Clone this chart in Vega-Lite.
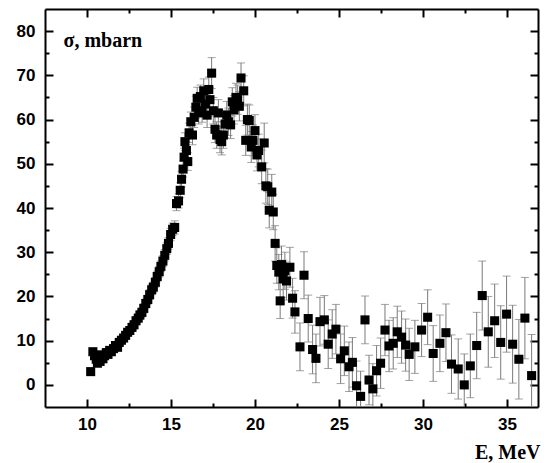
{
  "$schema": "https://vega.github.io/schema/vega-lite/v6.json",
  "autosize": {"type": "none"},
  "padding": {"left": 45, "top": 9, "right": 6, "bottom": 56},
  "width": 493,
  "height": 398,
  "background": "white",
  "config": {
    "view": {"stroke": null},
    "axis": {
      "grid": false,
      "domainColor": "black",
      "domainWidth": 2,
      "tickColor": "black",
      "tickWidth": 2,
      "labelFont": "Liberation Sans",
      "labelFontWeight": "bold",
      "labelFontSize": 17,
      "labelColor": "black",
      "titleFont": "Liberation Serif",
      "titleFontWeight": "bold",
      "titleFontSize": 20,
      "titleColor": "black"
    }
  },
  "data": {
    "values": [
      {"E": 10.22, "s": 3.0, "err": 0.5},
      {"E": 10.35, "s": 7.5, "err": 0.6},
      {"E": 10.45, "s": 6.6, "err": 0.6},
      {"E": 10.55, "s": 5.8, "err": 0.6},
      {"E": 10.62, "s": 4.9, "err": 0.6},
      {"E": 10.7, "s": 6.2, "err": 0.6},
      {"E": 10.78, "s": 5.3, "err": 0.6},
      {"E": 10.85, "s": 6.8, "err": 0.6},
      {"E": 10.95, "s": 5.9, "err": 0.6},
      {"E": 11.05, "s": 6.6, "err": 0.6},
      {"E": 11.15, "s": 7.3, "err": 0.6},
      {"E": 11.25, "s": 6.9, "err": 0.7},
      {"E": 11.35, "s": 7.8, "err": 0.7},
      {"E": 11.45, "s": 7.5, "err": 0.7},
      {"E": 11.58, "s": 8.2, "err": 0.7},
      {"E": 11.7, "s": 8.9, "err": 0.7},
      {"E": 11.82, "s": 8.5, "err": 0.7},
      {"E": 11.92, "s": 9.6, "err": 0.8},
      {"E": 12.05, "s": 10.1, "err": 0.8},
      {"E": 12.18, "s": 10.6, "err": 0.8},
      {"E": 12.3, "s": 11.2, "err": 0.8},
      {"E": 12.42, "s": 11.9, "err": 0.8},
      {"E": 12.55, "s": 12.3, "err": 0.8},
      {"E": 12.68, "s": 13.0, "err": 0.9},
      {"E": 12.8, "s": 13.6, "err": 0.9},
      {"E": 12.92, "s": 14.5, "err": 0.9},
      {"E": 13.05, "s": 15.1, "err": 0.9},
      {"E": 13.15, "s": 15.8, "err": 1.0},
      {"E": 13.27, "s": 16.4, "err": 1.0},
      {"E": 13.38, "s": 17.3, "err": 1.0},
      {"E": 13.5, "s": 18.4, "err": 1.0},
      {"E": 13.62, "s": 19.3, "err": 1.0},
      {"E": 13.73, "s": 20.4, "err": 1.1},
      {"E": 13.85, "s": 21.5, "err": 1.1},
      {"E": 13.95, "s": 22.1, "err": 1.1},
      {"E": 14.07, "s": 23.2, "err": 1.1},
      {"E": 14.18, "s": 24.5, "err": 1.2},
      {"E": 14.3, "s": 25.6, "err": 1.2},
      {"E": 14.4, "s": 26.8, "err": 1.2},
      {"E": 14.52, "s": 28.0, "err": 1.2},
      {"E": 14.63, "s": 29.3, "err": 1.3},
      {"E": 14.75, "s": 30.8, "err": 1.3},
      {"E": 14.85, "s": 32.0, "err": 1.3},
      {"E": 14.98, "s": 34.0, "err": 1.4},
      {"E": 15.1, "s": 35.2, "err": 1.4},
      {"E": 15.22, "s": 35.6, "err": 1.5},
      {"E": 15.33, "s": 41.0, "err": 1.6},
      {"E": 15.45, "s": 41.6, "err": 1.6},
      {"E": 15.55, "s": 44.0, "err": 1.7},
      {"E": 15.63, "s": 46.5, "err": 1.8},
      {"E": 15.72, "s": 48.8, "err": 1.8},
      {"E": 15.78, "s": 51.5, "err": 2.0},
      {"E": 15.83, "s": 55.0, "err": 2.0},
      {"E": 15.92, "s": 53.0, "err": 2.0},
      {"E": 16.0, "s": 50.5, "err": 2.0},
      {"E": 16.08, "s": 57.0, "err": 2.2},
      {"E": 16.18, "s": 59.5, "err": 2.2},
      {"E": 16.28, "s": 56.5, "err": 2.2},
      {"E": 16.38, "s": 60.5, "err": 2.3},
      {"E": 16.48, "s": 62.8, "err": 2.5},
      {"E": 16.56, "s": 64.8, "err": 2.5},
      {"E": 16.65, "s": 61.5, "err": 2.5},
      {"E": 16.75, "s": 65.2, "err": 2.6},
      {"E": 16.85, "s": 62.0, "err": 2.6},
      {"E": 16.95, "s": 66.5, "err": 2.7},
      {"E": 17.05, "s": 63.5, "err": 2.7},
      {"E": 17.15, "s": 61.0, "err": 2.8},
      {"E": 17.25, "s": 66.8, "err": 2.8},
      {"E": 17.32, "s": 64.5, "err": 2.8},
      {"E": 17.42, "s": 70.5, "err": 3.5},
      {"E": 17.52, "s": 62.0, "err": 3.0},
      {"E": 17.62, "s": 57.8, "err": 3.0},
      {"E": 17.72, "s": 56.5, "err": 3.0},
      {"E": 17.82, "s": 61.5, "err": 3.0},
      {"E": 17.92, "s": 55.5, "err": 3.0},
      {"E": 18.02, "s": 55.0, "err": 3.0},
      {"E": 18.12, "s": 56.5, "err": 3.0},
      {"E": 18.22, "s": 59.0, "err": 3.1},
      {"E": 18.32, "s": 61.0, "err": 3.1},
      {"E": 18.42, "s": 59.5, "err": 3.1},
      {"E": 18.55, "s": 58.8, "err": 3.1},
      {"E": 18.65, "s": 64.0, "err": 3.2},
      {"E": 18.75, "s": 62.2, "err": 3.2},
      {"E": 18.87, "s": 65.0, "err": 3.2},
      {"E": 18.97, "s": 64.5, "err": 3.3},
      {"E": 19.07, "s": 63.0, "err": 3.3},
      {"E": 19.17, "s": 69.4, "err": 3.4},
      {"E": 19.33, "s": 66.5, "err": 3.4},
      {"E": 19.45, "s": 55.3, "err": 3.4},
      {"E": 19.55, "s": 60.0, "err": 3.5},
      {"E": 19.66, "s": 59.8, "err": 3.5},
      {"E": 19.78, "s": 53.8, "err": 3.5},
      {"E": 19.88, "s": 55.3, "err": 3.5},
      {"E": 20.0, "s": 57.5, "err": 3.6},
      {"E": 20.12, "s": 52.0, "err": 3.6},
      {"E": 20.22, "s": 53.0, "err": 3.7},
      {"E": 20.4, "s": 49.3, "err": 3.8},
      {"E": 20.55, "s": 54.7, "err": 4.5},
      {"E": 20.65, "s": 45.0, "err": 3.9},
      {"E": 20.76, "s": 44.8, "err": 4.0},
      {"E": 20.85, "s": 39.5, "err": 4.0},
      {"E": 21.0, "s": 43.6, "err": 4.0},
      {"E": 21.09, "s": 39.1, "err": 4.0},
      {"E": 21.2, "s": 32.0, "err": 4.0},
      {"E": 21.3, "s": 27.0, "err": 4.0},
      {"E": 21.42, "s": 25.5, "err": 4.0},
      {"E": 21.5, "s": 19.0, "err": 4.0},
      {"E": 21.58, "s": 27.2, "err": 4.2},
      {"E": 21.68, "s": 24.0, "err": 4.2},
      {"E": 21.78, "s": 25.8, "err": 4.2},
      {"E": 21.88, "s": 23.5, "err": 4.3},
      {"E": 22.08, "s": 26.6, "err": 4.5},
      {"E": 22.24, "s": 19.6, "err": 4.5},
      {"E": 22.38, "s": 16.5, "err": 4.8},
      {"E": 22.68, "s": 8.6, "err": 5.4},
      {"E": 22.92, "s": 24.8, "err": 5.3},
      {"E": 23.17, "s": 15.0, "err": 5.3},
      {"E": 23.43, "s": 8.0, "err": 5.5},
      {"E": 23.63, "s": 6.0, "err": 5.5},
      {"E": 23.87, "s": 14.3, "err": 5.5},
      {"E": 24.13, "s": 14.7, "err": 5.5},
      {"E": 24.36, "s": 9.2, "err": 5.5},
      {"E": 24.6, "s": 11.5, "err": 5.5},
      {"E": 24.82, "s": 12.6, "err": 5.6},
      {"E": 25.1, "s": 5.9, "err": 5.6},
      {"E": 25.32, "s": 7.7, "err": 5.6},
      {"E": 25.6, "s": 4.1, "err": 5.6},
      {"E": 25.8, "s": 5.1, "err": 5.6},
      {"E": 26.05, "s": -0.2, "err": 5.6},
      {"E": 26.29, "s": -2.6, "err": 5.7},
      {"E": 26.55, "s": 14.7, "err": 5.4},
      {"E": 26.79, "s": 1.1, "err": 5.6},
      {"E": 27.02, "s": -0.9, "err": 5.7},
      {"E": 27.24, "s": 3.2, "err": 5.7},
      {"E": 27.48, "s": 4.9, "err": 5.7},
      {"E": 27.74, "s": 12.4, "err": 5.8},
      {"E": 27.98, "s": 8.8, "err": 5.8},
      {"E": 28.23, "s": 9.4, "err": 5.8},
      {"E": 28.47, "s": 12.0, "err": 5.8},
      {"E": 28.73, "s": 10.8, "err": 5.9},
      {"E": 28.97, "s": 9.0, "err": 5.9},
      {"E": 29.18, "s": 6.9, "err": 5.9},
      {"E": 29.52, "s": 8.6, "err": 6.0},
      {"E": 29.92, "s": 12.4, "err": 6.0},
      {"E": 30.28, "s": 15.3, "err": 6.2},
      {"E": 30.61, "s": 7.1, "err": 6.3},
      {"E": 31.01, "s": 9.4, "err": 6.4},
      {"E": 31.37, "s": 11.8, "err": 6.5},
      {"E": 31.7, "s": 4.7, "err": 6.6},
      {"E": 32.1, "s": 3.6, "err": 6.8},
      {"E": 32.46, "s": 0.0, "err": 7.0},
      {"E": 32.82, "s": 4.3, "err": 7.2},
      {"E": 33.2, "s": 8.9, "err": 7.5},
      {"E": 33.53, "s": 20.2, "err": 7.8},
      {"E": 33.89, "s": 12.0, "err": 8.0},
      {"E": 34.27, "s": 14.5, "err": 8.3},
      {"E": 34.63, "s": 9.6, "err": 8.3},
      {"E": 34.98, "s": 16.0, "err": 8.6},
      {"E": 35.34, "s": 9.2, "err": 8.8},
      {"E": 35.71, "s": 5.8, "err": 9.0},
      {"E": 36.07, "s": 15.1, "err": 9.2},
      {"E": 36.47, "s": 2.1, "err": 9.3}
    ]
  },
  "resolve": {"axis": {"x": "independent", "y": "independent"}},
  "layer": [
    {
      "mark": {"type": "errorbar", "ticks": {"size": 8, "color": "#7a7a7a", "thickness": 1}, "rule": {"color": "#7a7a7a", "strokeWidth": 1}, "clip": true},
      "encoding": {
        "x": {"field": "E", "type": "quantitative", "scale": {"domain": [7.5, 36.85], "nice": false, "zero": false},
          "axis": {"orient": "bottom", "values": [10, 15, 20, 25, 30, 35], "tickSize": -8, "labelPadding": 17, "title": "E, MeV", "titleAlign": "right", "titleAnchor": null, "titleX": 495, "titleY": 51, "titleBaseline": "alphabetic"}},
        "y": {"field": "s", "type": "quantitative", "scale": {"domain": [-5, 85], "nice": false, "zero": false},
          "axis": {"orient": "left", "values": [0, 10, 20, 30, 40, 50, 60, 70, 80], "tickSize": -8, "labelPadding": 18, "title": "σ, mbarn", "titleAngle": 0, "titleAlign": "left", "titleAnchor": null, "titleX": 18, "titleY": 37, "titleBaseline": "alphabetic"}},
        "yError": {"field": "err"}
      }
    },
    {
      "mark": {"type": "point", "shape": "square", "filled": true, "color": "black", "size": 82, "opacity": 1},
      "encoding": {
        "x": {"field": "E", "type": "quantitative", "axis": {"orient": "top", "values": [10, 15, 20, 25, 30, 35], "tickSize": -8, "labels": false, "title": null}},
        "y": {"field": "s", "type": "quantitative", "axis": {"orient": "right", "values": [0, 10, 20, 30, 40, 50, 60, 70, 80], "tickSize": -8, "labels": false, "title": null}}
      }
    },
    {
      "mark": {"type": "point", "opacity": 0},
      "encoding": {
        "x": {"field": "E", "type": "quantitative", "axis": {"orient": "bottom", "values": [12.5, 17.5, 22.5, 27.5, 32.5], "tickSize": -4, "labels": false, "domain": false, "title": null}},
        "y": {"field": "s", "type": "quantitative", "axis": {"orient": "left", "values": [5, 15, 25, 35, 45, 55, 65, 75], "tickSize": -4, "labels": false, "domain": false, "title": null}}
      }
    },
    {
      "mark": {"type": "point", "opacity": 0},
      "encoding": {
        "x": {"field": "E", "type": "quantitative", "axis": {"orient": "top", "values": [12.5, 17.5, 22.5, 27.5, 32.5], "tickSize": -4, "labels": false, "domain": false, "title": null}},
        "y": {"field": "s", "type": "quantitative", "axis": {"orient": "right", "values": [5, 15, 25, 35, 45, 55, 65, 75], "tickSize": -4, "labels": false, "domain": false, "title": null}}
      }
    }
  ]
}
